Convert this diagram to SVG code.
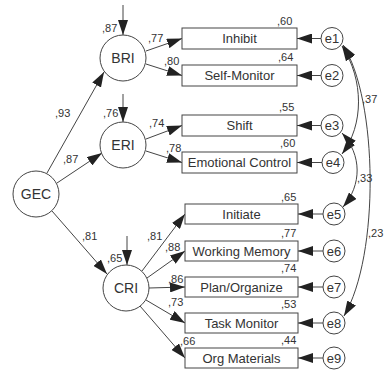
<svg xmlns="http://www.w3.org/2000/svg" width="385" height="371" viewBox="0 0 385 371">
<defs>
<marker id="ah" markerUnits="userSpaceOnUse" markerWidth="15" markerHeight="10" refX="15" refY="5" orient="auto-start-reverse" viewBox="0 0 15 10">
<path d="M0,0 L15,5 L0,10 z" fill="#222"/>
</marker>
<style>
.c{fill:#fff;stroke:#444;stroke-width:1}
.b{fill:#fff;stroke:#444;stroke-width:1}
.l{fill:none;stroke:#444;stroke-width:1;marker-end:url(#ah)}
.d{fill:none;stroke:#444;stroke-width:1;marker-start:url(#ah);marker-end:url(#ah)}
text{font-family:"Liberation Sans",Arial,sans-serif;fill:#333}
.t{font-size:13px;text-anchor:middle}
.n{font-size:14px;text-anchor:middle}
.e{font-size:13px;text-anchor:middle}
.v{font-size:11px}
</style>
</defs>
<rect width="385" height="371" fill="#fff"/>
<g id="connectors">
<path class="l" d="M123 5 L123 35"/>
<path class="l" d="M123 94 L123 122"/>
<path class="l" d="M127 236 L127 265"/>
<path class="l" d="M47 173 L104 72"/>
<path class="l" d="M57 183 L102 153"/>
<path class="l" d="M52 211 L107 274"/>
<path class="l" d="M146 51 L182 38.5"/>
<path class="l" d="M146 64 L182 75.5"/>
<path class="l" d="M146 139 L182 125.5"/>
<path class="l" d="M146 151 L182 162.5"/>
<path class="l" d="M142 271 L185 214"/>
<path class="l" d="M147 278 L185 251"/>
<path class="l" d="M149 288 L185 287"/>
<path class="l" d="M146 300 L185 323"/>
<path class="l" d="M140 306 L185 358"/>
<path class="l" d="M321 38.5 L297 38.5"/>
<path class="l" d="M321 75.5 L297 75.5"/>
<path class="l" d="M321 125.5 L297 125.5"/>
<path class="l" d="M322 162.5 L297 162.5"/>
<path class="l" d="M323 214 L298 214"/>
<path class="l" d="M323 251 L298 251"/>
<path class="l" d="M323 287 L298 287"/>
<path class="l" d="M323 323 L298 323"/>
<path class="l" d="M323 358 L298 358"/>
<path class="d" d="M342 46 C364 80, 364 125, 342 154"/>
<path class="d" d="M342 133 C362 155, 362 185, 343 207"/>
<path class="d" d="M343 45 C378 100, 380 255, 344 316"/>
</g>
<g id="GEC"><circle class="c" cx="36" cy="194" r="23"/><text class="n" x="36" y="199">GEC</text></g>
<g id="BRI"><circle class="c" cx="123" cy="58" r="23"/><text class="n" x="123" y="63">BRI</text></g>
<g id="ERI"><circle class="c" cx="123" cy="145" r="23"/><text class="n" x="123" y="150">ERI</text></g>
<g id="CRI"><circle class="c" cx="126" cy="288" r="23"/><text class="n" x="126" y="293">CRI</text></g>
<g id="Inhibit"><rect class="b" x="182" y="28" width="115" height="21"/><text class="t" x="239.5" y="43">Inhibit</text></g>
<g id="SelfMonitor"><rect class="b" x="182" y="65" width="115" height="21"/><text class="t" x="239.5" y="80">Self-Monitor</text></g>
<g id="Shift"><rect class="b" x="182" y="115" width="115" height="21"/><text class="t" x="239.5" y="130">Shift</text></g>
<g id="EmotionalControl"><rect class="b" x="182" y="152" width="115" height="21"/><text class="t" x="239.5" y="167">Emotional Control</text></g>
<g id="Initiate"><rect class="b" x="185" y="204" width="113" height="20"/><text class="t" x="241.5" y="218.5">Initiate</text></g>
<g id="WorkingMemory"><rect class="b" x="185" y="241" width="113" height="20"/><text class="t" x="241.5" y="255.5">Working Memory</text></g>
<g id="PlanOrganize"><rect class="b" x="185" y="277" width="113" height="20"/><text class="t" x="241.5" y="291.5">Plan/Organize</text></g>
<g id="TaskMonitor"><rect class="b" x="185" y="313" width="113" height="20"/><text class="t" x="241.5" y="327.5">Task Monitor</text></g>
<g id="OrgMaterials"><rect class="b" x="185" y="348" width="113" height="20"/><text class="t" x="241.5" y="362.5">Org Materials</text></g>
<g id="e1"><circle class="c" cx="332" cy="38.5" r="11"/><text class="e" x="332" y="43">e1</text></g>
<g id="e2"><circle class="c" cx="332" cy="75.5" r="11"/><text class="e" x="332" y="80">e2</text></g>
<g id="e3"><circle class="c" cx="332" cy="125.5" r="11"/><text class="e" x="332" y="130">e3</text></g>
<g id="e4"><circle class="c" cx="333" cy="162.5" r="11"/><text class="e" x="333" y="167">e4</text></g>
<g id="e5"><circle class="c" cx="334" cy="214" r="11"/><text class="e" x="334" y="218.5">e5</text></g>
<g id="e6"><circle class="c" cx="334" cy="251" r="11"/><text class="e" x="334" y="255.5">e6</text></g>
<g id="e7"><circle class="c" cx="334" cy="287" r="11"/><text class="e" x="334" y="291.5">e7</text></g>
<g id="e8"><circle class="c" cx="334" cy="323" r="11"/><text class="e" x="334" y="327.5">e8</text></g>
<g id="e9"><circle class="c" cx="334" cy="358" r="11"/><text class="e" x="334" y="362.5">e9</text></g>
<g id="labels">
<text class="v" x="102" y="32">,87</text>
<text class="v" x="103" y="117">,76</text>
<text class="v" x="107" y="262">,65</text>
<text class="v" x="55" y="117">,93</text>
<text class="v" x="63" y="163">,87</text>
<text class="v" x="82" y="240">,81</text>
<text class="v" x="148" y="42">,77</text>
<text class="v" x="164" y="65">,80</text>
<text class="v" x="149" y="127">,74</text>
<text class="v" x="166" y="152">,78</text>
<text class="v" x="147" y="240">,81</text>
<text class="v" x="165" y="251">,88</text>
<text class="v" x="168" y="283">,86</text>
<text class="v" x="168" y="306">,73</text>
<text class="v" x="180" y="345">,66</text>
<text class="v" x="277" y="25">,60</text>
<text class="v" x="278" y="61">,64</text>
<text class="v" x="279" y="111">,55</text>
<text class="v" x="280" y="147">,60</text>
<text class="v" x="281" y="201">,65</text>
<text class="v" x="281" y="237">,77</text>
<text class="v" x="281" y="272">,74</text>
<text class="v" x="281" y="308">,53</text>
<text class="v" x="281" y="344">,44</text>
<text class="v" x="362" y="103">,37</text>
<text class="v" x="357" y="182">,33</text>
<text class="v" x="368" y="237">,23</text>
</g>
</svg>
